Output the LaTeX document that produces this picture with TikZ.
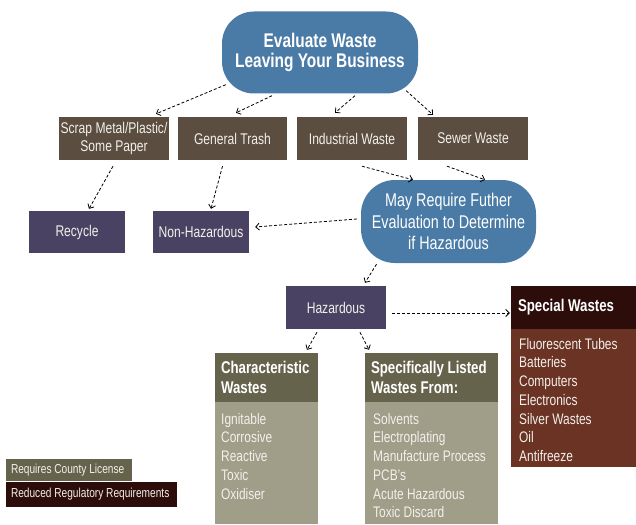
\documentclass[tikz,border=0pt]{standalone}
\usepackage{fontspec}
\setmainfont{Liberation Sans}[FakeStretch=0.78]
\usetikzlibrary{arrows.meta,calc}
\definecolor{cblue}{HTML}{4A7BA7}
\definecolor{cbrown}{HTML}{5B4D3F}
\definecolor{cpurple}{HTML}{4A4262}
\definecolor{colivehead}{HTML}{66634C}
\definecolor{colivebody}{HTML}{A09E89}
\definecolor{cspechead}{HTML}{2C0D09}
\definecolor{cspecbody}{HTML}{6B3324}
\definecolor{ctxt}{HTML}{F2F0EA}
\tikzset{
  base/.style={inner sep=0pt, align=center, text=ctxt},
  blueblob/.style={base, fill=cblue, text=white},
  brownbox/.style={base, fill=cbrown, minimum width=110pt, minimum height=43pt, font=\fontsize{15.5}{17.5}\selectfont},
  purplebox/.style={base, fill=cpurple, minimum width=96pt, minimum height=42pt, font=\fontsize{15.5}{17.5}\selectfont},
  headbox/.style={inner sep=0pt, minimum height=49pt},
  headtext/.style={inner sep=0pt, anchor=west, align=left, text=white, font=\fontsize{17}{20}\selectfont\bfseries},
  listtext/.style={inner sep=0pt, anchor=north west, align=left, text=ctxt, font=\fontsize{15.3}{18.7}\selectfont},
  legendbox/.style={inner sep=0pt},
  legendtext/.style={inner sep=0pt, anchor=west, text=ctxt, font=\fontsize{13}{14}\selectfont},
  conn/.style={draw=black, dash pattern=on 3pt off 2pt, line width=0.8pt, -{Straight Barb[length=3.5pt,width=7pt]}},
}
\begin{document}
\begin{tikzpicture}[x=1pt,y=-1pt]
\useasboundingbox (0,0) rectangle (636,524);
% top
\node[blueblob, rounded corners=32pt, minimum width=196pt, minimum height=82pt,
  font=\fontsize{19.8}{20.5}\selectfont\bfseries] (top) at (320,52.5) {Evaluate Waste\\Leaving Your Business};
% row
\node[brownbox] (scrap) at (114,138.5) {Scrap Metal/Plastic/\\Some Paper};
\node[brownbox, minimum width=109pt] (gen) at (232.5,138.5) {General Trash};
\node[brownbox] (ind) at (352,138.5) {Industrial Waste};
\node[brownbox] (sew) at (473,138.5) {Sewer Waste};
% second row
\node[purplebox] (rec) at (77,232) {Recycle};
\node[purplebox] (non) at (201,232) {Non-Hazardous};
\node[blueblob, rounded corners=34pt, minimum width=175pt, minimum height=83pt,
  font=\fontsize{18.4}{21.5}\selectfont] (may) at (448.5,221.5) {May Require Futher\\Evaluation to Determine\\if Hazardous};
% hazardous
\node[purplebox, minimum width=100pt, minimum height=43pt] (haz) at (336,307.5) {Hazardous};
% characteristic
\fill[colivebody] (215,402) rectangle (318,524);
\node[headbox, fill=colivehead, minimum width=103pt] (charh) at (266.5,377.5) {};
\node[headtext] (charht) at ($(charh.west)+(6,0)$) {Characteristic\\Wastes};
\node[listtext] (charl) at (221,413) {Ignitable\\Corrosive\\Reactive\\Toxic\\Oxidiser};
% specifically
\fill[colivebody] (365,402) rectangle (498,524);
\node[headbox, fill=colivehead, minimum width=133pt] (spech) at (431.5,377.5) {};
\node[headtext] (specht) at ($(spech.west)+(6,0)$) {Specifically Listed\\Wastes From:};
\node[listtext] (specl) at (373,413) {Solvents\\Electroplating\\Manufacture Process\\PCB's\\Acute Hazardous\\Toxic Discard};
% special
\fill[cspecbody] (511,329) rectangle (636,467);
\node[headbox, fill=cspechead, minimum width=125pt, minimum height=43pt] (spw) at (573.5,307.5) {};
\node[headtext] (spwt) at ($(spw.west)+(7,0)$) {Special Wastes};
\node[listtext] (spwl) at (519,338) {Fluorescent Tubes\\Batteries\\Computers\\Electronics\\Silver Wastes\\Oil\\Antifreeze};
% legend
\node[legendbox, fill=colivehead, minimum width=126pt, minimum height=22pt] (leg1) at (69,470) {};
\node[legendtext] (leg1t) at ($(leg1.west)+(5,0)$) {Requires County License};
\node[legendbox, fill=cspechead, minimum width=171pt, minimum height=25pt] (leg2) at (91.5,494.5) {};
\node[legendtext] (leg2t) at ($(leg2.west)+(5,0)$) {Reduced Regulatory Requirements};
% connectors
\draw[conn] ($(top.south west)+(4,-9)$) -- ($(scrap.north)+(42,-3)$);
\draw[conn] ($(top.south)+(-48,2)$) -- ($(gen.north)+(3.5,-4)$);
\draw[conn] ($(top.south)+(35,2)$) -- ($(ind.north)+(-17,-4)$);
\draw[conn] ($(top.south east)+(-12,-3)$) -- ($(sew.north)+(-40,-2)$);
\draw[conn] ($(scrap.south)+(-1,6)$) -- ($(rec.north)+(12,-2)$);
\draw[conn] ($(gen.south)+(-10,6)$) -- ($(non.north)+(10,-2)$);
\draw[conn] ($(ind.south)+(10,6)$) -- ($(may.north)+(-35.5,0)$);
\draw[conn] ($(sew.south)+(-26,6)$) -- ($(may.north)+(36.5,0)$);
\draw[conn] ($(may.west)+(-4,-2.5)$) -- ($(non.east)+(6,-5)$);
\draw[conn] ($(may.south)+(-72,1)$) -- ($(haz.north)+(29,-3)$);
\draw[conn] ($(haz.south)+(-19,3)$) -- ($(charh.north)+(40.5,-3)$);
\draw[conn] ($(haz.south)+(24,3)$) -- ($(spech.north)+(-62.5,-3)$);
\draw[conn] ($(haz.east)+(6,5.5)$) -- ($(spw.west)+(-1,5.5)$);
\end{tikzpicture}
\end{document}
